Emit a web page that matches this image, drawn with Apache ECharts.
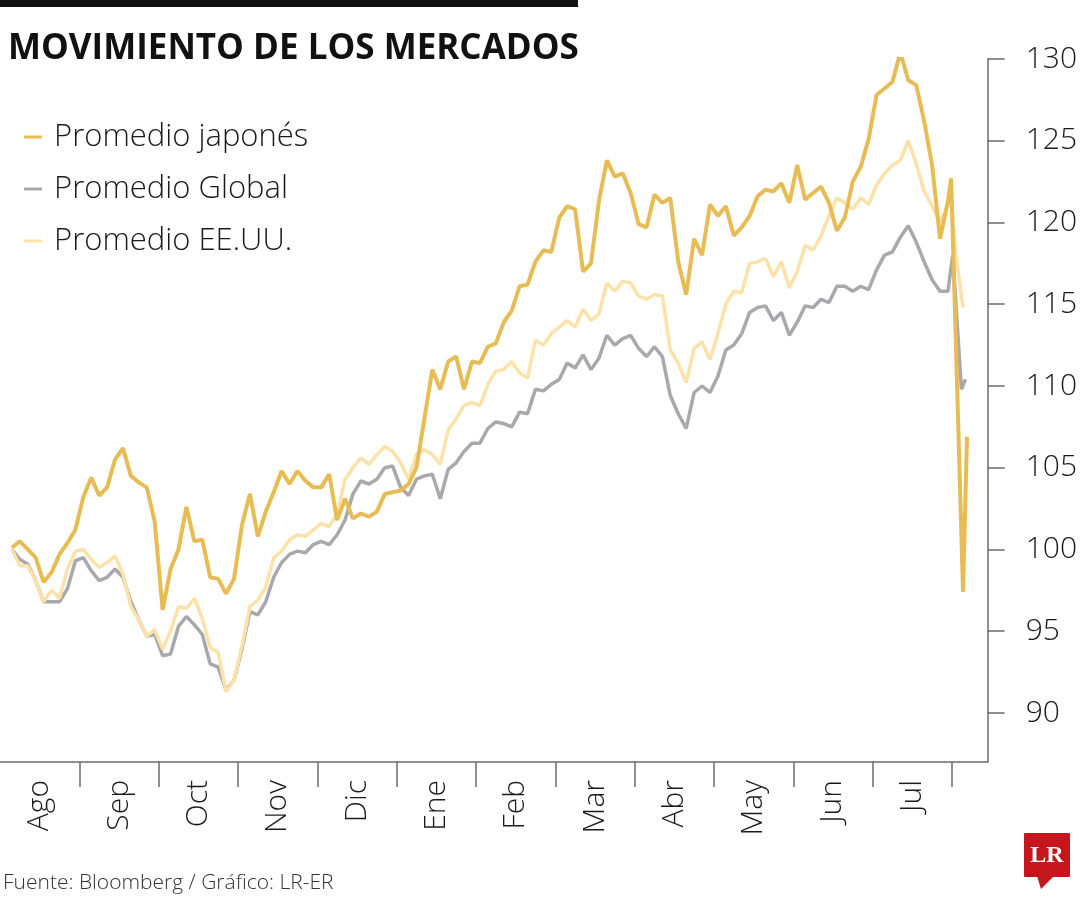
<!DOCTYPE html>
<html><head><meta charset="utf-8">
<script src="https://cdn.jsdelivr.net/npm/echarts@6/dist/echarts.min.js"></script>
<style>html,body{margin:0;padding:0;background:#fff}#c{width:1080px;height:900px}</style>
</head><body><div id="c"></div>
<script>
// Month labels (each month is one unit on the x axis, starting at the beginning of August)
const months = ['Ago','Sep','Oct','Nov','Dic','Ene','Feb','Mar','Abr','May','Jun','Jul'];
const monthTicks = [1,2,3,4,5,6,7,8,9,10,11,12];
const yTicks = [90,95,100,105,110,115,120,125,130];

// Regular samples: position (months) = t0 + dt * index
const t0 = 0.15, dt = 0.1;

const japan = [100.1,100.5,100.0,99.5,98.0,98.6,99.7,100.4,101.2,103.2,
104.4,103.3,103.8,105.5,106.2,104.5,104.1,103.8,101.7,96.3,
98.8,100.0,102.6,100.5,100.6,98.3,98.2,97.3,98.2,101.5,
103.4,100.8,102.3,103.5,104.8,104.0,104.8,104.2,103.8,103.8,
104.6,101.8,103.1,101.9,102.2,102.0,102.3,103.4,103.5,103.6,
104.0,105.0,108.0,111.0,109.8,111.5,111.8,109.8,111.5,111.4,
112.4,112.6,113.9,114.6,116.1,116.2,117.6,118.3,118.2,120.3,
121.0,120.8,117.0,117.5,121.3,123.8,122.8,123.0,121.8,119.9,
119.7,121.7,121.2,121.5,117.6,115.6,119.0,118.0,121.1,120.4,
121.0,119.2,119.7,120.4,121.6,122.0,121.9,122.4,121.2,123.5,
121.4,121.8,122.2,121.2,119.5,120.3,122.5,123.4,125.1,127.8,
128.2,128.6,130.4,128.7,128.4,126.2,123.5,119.0,121.3];
const japanTailT = [11.99, 12.14, 12.19];
const japanTail = [122.7, 97.4, 106.9];

const globalAvg = [100.0,99.4,99.1,98.1,96.8,96.8,96.8,97.6,99.3,99.5,
98.7,98.1,98.3,98.8,98.3,96.8,95.7,94.7,94.8,93.5,
93.6,95.3,95.9,95.4,94.8,93.0,92.8,91.4,92.0,93.9,
96.2,96.0,96.8,98.3,99.2,99.7,99.9,99.8,100.3,100.5,
100.3,100.9,101.8,103.4,104.2,104.0,104.3,105.0,105.1,103.8,
103.3,104.3,104.5,104.6,103.1,104.9,105.3,106.0,106.5,106.5,
107.4,107.8,107.7,107.5,108.4,108.3,109.8,109.7,110.1,110.4,
111.4,111.1,111.9,111.0,111.7,113.1,112.5,112.9,113.1,112.3,
111.8,112.4,111.8,109.4,108.3,107.4,109.6,110.0,109.6,110.6,
112.2,112.5,113.2,114.5,114.8,114.9,114.0,114.5,113.1,113.9,
114.9,114.8,115.3,115.1,116.1,116.1,115.8,116.1,115.9,117.1,
118.0,118.2,119.1,119.8,118.8,117.6,116.5,115.8,115.8];
const globalTailT = [12.01, 12.12, 12.17];
const globalTail = [118.0, 109.8, 110.4];

const usa = [100.0,99.0,99.0,98.1,96.8,97.5,97.0,98.8,99.9,100.0,
99.4,98.9,99.2,99.6,98.5,96.5,95.7,94.7,95.1,93.9,
95.0,96.5,96.4,97.0,95.8,94.0,93.7,91.3,92.0,94.1,
96.5,96.9,97.7,99.5,99.9,100.6,100.9,100.8,101.2,101.6,
101.4,102.2,104.3,105.0,105.6,105.2,105.8,106.3,106.0,105.3,
104.3,105.8,106.1,105.8,105.2,107.3,108.0,108.8,109.0,108.8,
110.1,110.9,111.0,111.5,110.8,110.5,112.8,112.5,113.2,113.6,
114.0,113.6,114.7,114.0,114.4,116.3,115.8,116.4,116.3,115.5,
115.3,115.6,115.5,112.2,111.4,110.2,112.3,112.7,111.6,113.2,
115.0,115.8,115.7,117.5,117.6,117.8,116.7,117.6,116.0,117.0,
118.6,118.3,119.2,120.4,121.5,121.2,120.8,121.5,121.1,122.3,
123.0,123.5,123.8,125.0,123.6,121.9,121.0,120.0,121.1];
const usaTailT = [12.0, 12.05, 12.14];
const usaTail = [121.0, 118.0, 114.8];

function pairs(vals, tailT, tailV) {
  const out = vals.map((v, i) => [+(t0 + dt * i).toFixed(3), v]);
  tailT.forEach((t, k) => out.push([t, tailV[k]]));
  return out;
}

const FONT = "'Open Sans', 'Noto Sans', sans-serif";
const AXIS = '#6b6b6b';
const C_JP = '#E8BC55', C_GL = '#A9A8AD', C_US = '#FCE2A8';

const chart = echarts.init(document.getElementById('c'), null, {renderer: 'canvas'});
chart.setOption({
  animation: false,
  backgroundColor: '#fff',
  title: {
    text: 'MOVIMIENTO DE LOS MERCADOS', left: 3, top: 27,
    textStyle: {fontFamily: FONT, fontWeight: 'bold', fontSize: 35, color: '#111'}
  },
  legend: {
    orient: 'vertical', left: 19, top: 116, itemWidth: 18, itemHeight: 3, itemGap: 20,
    icon: 'rect', selectedMode: false,
    data: ['Promedio japonés', 'Promedio Global', 'Promedio EE.UU.'],
    textStyle: {fontFamily: FONT, fontWeight: 300, fontSize: 31, lineHeight: 32, color: '#1a1a1a', padding: [0, 0, 0, 7]}
  },
  grid: {left: 0, top: 59, width: 992, height: 703},
  xAxis: {
    type: 'value', min: 0, max: 12.45,
    axisLine: {show: true, onZero: false, lineStyle: {color: AXIS, width: 1.5}},
    axisTick: {show: true, length: 25, customValues: monthTicks, lineStyle: {color: AXIS, width: 1.5}},
    axisLabel: {
      customValues: months.map((m, i) => i + 0.5),
      formatter: v => months[Math.floor(v)] || '',
      rotate: 90, margin: 18, fontFamily: FONT, fontWeight: 300, fontSize: 30, color: '#1a1a1a'
    },
    splitLine: {show: false}
  },
  yAxis: {
    type: 'value', position: 'right', min: 87, max: 130,
    axisLine: {show: true, onZero: false, lineStyle: {color: AXIS, width: 1.5}},
    axisTick: {show: true, length: 17, customValues: yTicks, lineStyle: {color: AXIS, width: 1.5}},
    axisLabel: {customValues: yTicks, margin: 38, fontFamily: FONT, fontWeight: 300, fontSize: 30, color: '#1a1a1a'},
    splitLine: {show: false}
  },
  series: [
    {name: 'Promedio Global', type: 'line', data: pairs(globalAvg, globalTailT, globalTail),
     showSymbol: false, color: C_GL, itemStyle: {color: C_GL}, lineStyle: {color: C_GL, width: 3.5}},
    {name: 'Promedio EE.UU.', type: 'line', data: pairs(usa, usaTailT, usaTail),
     showSymbol: false, color: C_US, itemStyle: {color: C_US}, lineStyle: {color: C_US, width: 3.5}},
    {name: 'Promedio japonés', type: 'line', data: pairs(japan, japanTailT, japanTail),
     showSymbol: false, color: C_JP, itemStyle: {color: C_JP}, lineStyle: {color: C_JP, width: 4}}
  ],
  graphic: [
    {type: 'rect', left: 0, top: 0, shape: {width: 578, height: 7}, style: {fill: '#111'}},
    {type: 'text', left: 3, top: 873, style: {text: 'Fuente: Bloomberg / Gráfico: LR-ER', fontFamily: FONT, fontWeight: 300, fontSize: 21, fill: '#333'}},
    {type: 'group', left: 1024, top: 833, children: [
      {type: 'rect', shape: {x: 0, y: 0, width: 46, height: 44, r: 1}, style: {fill: '#C4161C'}},
      {type: 'polygon', shape: {points: [[13, 43], [30, 43], [17, 56]]}, style: {fill: '#C4161C'}},
      {type: 'text', x: 23, y: 23, style: {text: 'LR', fontFamily: "'Liberation Serif', 'DejaVu Serif', serif", fontWeight: 'bold', fontSize: 24, fill: '#fff', align: 'center', verticalAlign: 'middle'}}
    ]}
  ]
});
</script></body></html>
